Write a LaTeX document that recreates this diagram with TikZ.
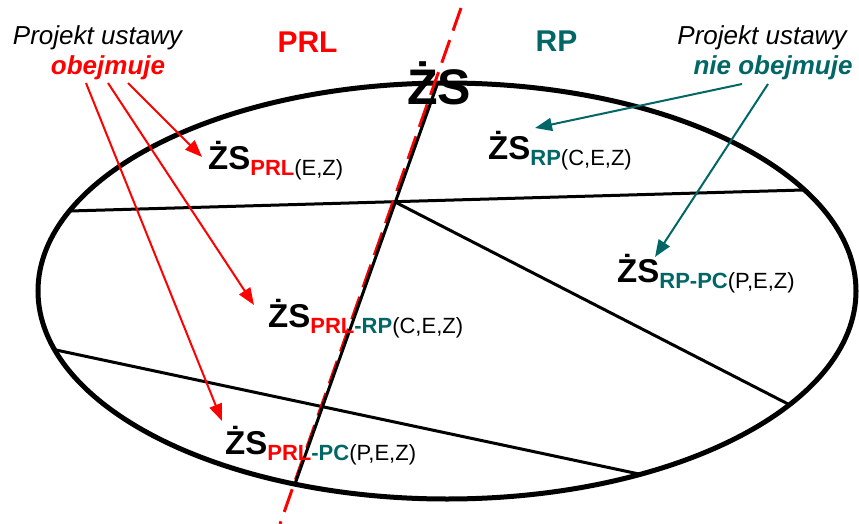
\documentclass[tikz,border=0pt]{standalone}
\usepackage{fontspec}
\setmainfont{Liberation Sans}
\usetikzlibrary{arrows.meta}
\definecolor{tealc}{RGB}{0,102,102}
\newcommand\zslab[1]{{\fontsize{33}{33}\selectfont\bfseries ŻS}\raisebox{-6pt}{\fontsize{22}{22}\selectfont #1}}
\begin{document}
\begin{tikzpicture}[x=1pt,y=-1pt,
  lab/.style={anchor=base west, inner sep=0pt},
  note/.style={anchor=base, inner sep=0pt, font=\fontsize{26}{28}\selectfont\itshape},
  bignote/.style={anchor=base, inner sep=0pt, font=\fontsize{26}{28}\selectfont\bfseries\itshape},
  head/.style={anchor=base, inner sep=0pt, font=\fontsize{30}{30}\selectfont\bfseries},
  redarrow/.style={red, line width=2pt, -{Triangle[length=17pt,width=13pt]}},
  tealarrow/.style={tealc, line width=2pt, -{Triangle[length=17pt,width=13pt]}},
  partline/.style={line width=3pt},
  border/.style={line width=5pt}
]
\useasboundingbox (0,0) rectangle (859,524);

% outer ellipse
\draw[border] (447,291) ellipse [x radius=409pt, y radius=208pt];

% inner division lines
\coordinate (p1) at (70,211);
\coordinate (p2) at (803,190);
\coordinate (v) at (395,202);
\coordinate (p3) at (790,405);
\coordinate (p4) at (56,350);
\coordinate (p5) at (639,474);
\coordinate (t) at (437,85);
\coordinate (b) at (295,484);
\draw[partline] (p1) -- (p2);
\draw[partline] (v) -- (p3);
\draw[partline] (p4) -- (p5);

% red dashed boundary
\coordinate (r1) at (461,8);
\coordinate (r2) at (280,524);
\draw[red, line width=3pt, dash pattern=on 24pt off 10pt] (r1) -- (r2);
\draw[partline] (t) -- (b);

% headings
\node[head, red] (prl) at (307.5,53) {PRL};
\node[head, tealc] (rp) at (556.5,52) {RP};
\node[anchor=base, inner sep=0pt, font=\fontsize{50}{50}\selectfont\bfseries] (zs) at (439,105) {ŻS};

% side notes
\node[note] (pl) at (97.5,45) {Projekt ustawy};
\node[bignote, red] (ob) at (108,75) {obejmuje};
\node[note] (pr) at (762,45) {Projekt ustawy};
\node[bignote, tealc] (nob) at (773,75) {nie obejmuje};

% labels
\node[lab] (l1) at (208,169) {\zslab{{\bfseries\color{red}PRL}(E,Z)}};
\node[lab] (l2) at (488,159) {\zslab{{\bfseries\color{tealc}RP}(C,E,Z)}};
\node[lab] (l3) at (617,282) {\zslab{{\bfseries\color{tealc}RP-PC}(P,E,Z)}};
\node[lab] (l4) at (268,327) {\zslab{{\bfseries\color{red}PRL}{\bfseries\color{tealc}-RP}(C,E,Z)}};
\node[lab] (l5) at (225,454) {\zslab{{\bfseries\color{red}PRL}{\bfseries\color{tealc}-PC}(P,E,Z)}};

% arrows
\coordinate (a1s) at (128,83);
\coordinate (a1e) at (202,157);
\coordinate (a2s) at (108,83);
\coordinate (a2e) at (254,305);
\coordinate (a3s) at (86,83);
\coordinate (a3e) at (222,421);
\coordinate (a4s) at (742,84);
\coordinate (a4e) at (535,128);
\coordinate (a5s) at (768,84);
\coordinate (a5e) at (655,257);
\draw[redarrow] (a1s) -- (a1e);
\draw[redarrow] (a2s) -- (a2e);
\draw[redarrow] (a3s) -- (a3e);
\draw[tealarrow] (a4s) -- (a4e);
\draw[tealarrow] (a5s) -- (a5e);
\end{tikzpicture}
\end{document}
